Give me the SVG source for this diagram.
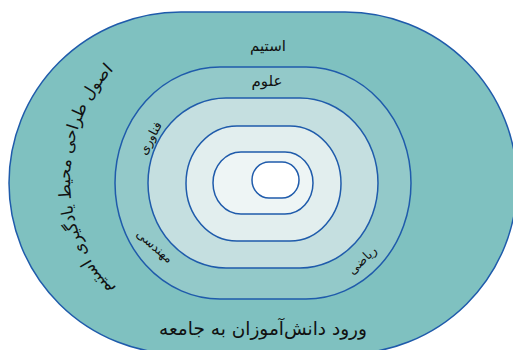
<svg xmlns="http://www.w3.org/2000/svg" width="513" height="350" viewBox="0 0 513 350">
<style>
.ring{stroke:#1f5bab;stroke-width:1.5}
.t{font-family:"DejaVu Sans",sans-serif;fill:#111;text-anchor:middle}
</style>
<defs>
<path id="arcL" d="M158,318 A123,144 0 0 1 158,42"/>
</defs>
<rect width="513" height="350" fill="#ffffff"/>
<g id="ring-steam">
<rect class="ring" x="9" y="12" width="508" height="342" rx="172" ry="171" fill="#7fc1c0"/>
<text class="t" x="268" y="51" font-size="15">استیم</text>
<text class="t" x="263" y="335" font-size="18.5">ورود دانش‌آموزان به جامعه</text>
<text class="t" font-size="16.5"><textPath href="#arcL" startOffset="50%">اصول طراحی محیط یادگیری استیم</textPath></text>
</g>
<g id="ring-science">
<rect class="ring" x="115" y="67" width="296" height="232" rx="105" ry="116" fill="#93c9c9"/>
<text class="t" x="267" y="86" font-size="15">علوم</text>
<text class="t" font-size="12.5" dominant-baseline="central" transform="translate(150,138) rotate(-62)">فناوری</text>
<text class="t" font-size="12.5" dominant-baseline="central" transform="translate(155,246) rotate(41)">مهندسی</text>
<text class="t" font-size="12.5" dominant-baseline="central" transform="translate(362,260) rotate(-44)">ریاضی</text>
</g>
<g id="ring-3">
<rect class="ring" x="148" y="98" width="230" height="170" rx="78" ry="85" fill="#c5dfe0"/>
</g>
<g id="ring-4">
<rect class="ring" x="186" y="126" width="155" height="115" rx="51" ry="57.5" fill="#e2eeee"/>
</g>
<g id="ring-5">
<rect class="ring" x="213" y="152" width="100" height="62" rx="28" ry="31" fill="#eef5f5"/>
</g>
<g id="ring-core">
<rect class="ring" x="252" y="162" width="47" height="36" rx="17" ry="18" fill="#ffffff"/>
</g>
<g id="connectors"/>
</svg>
